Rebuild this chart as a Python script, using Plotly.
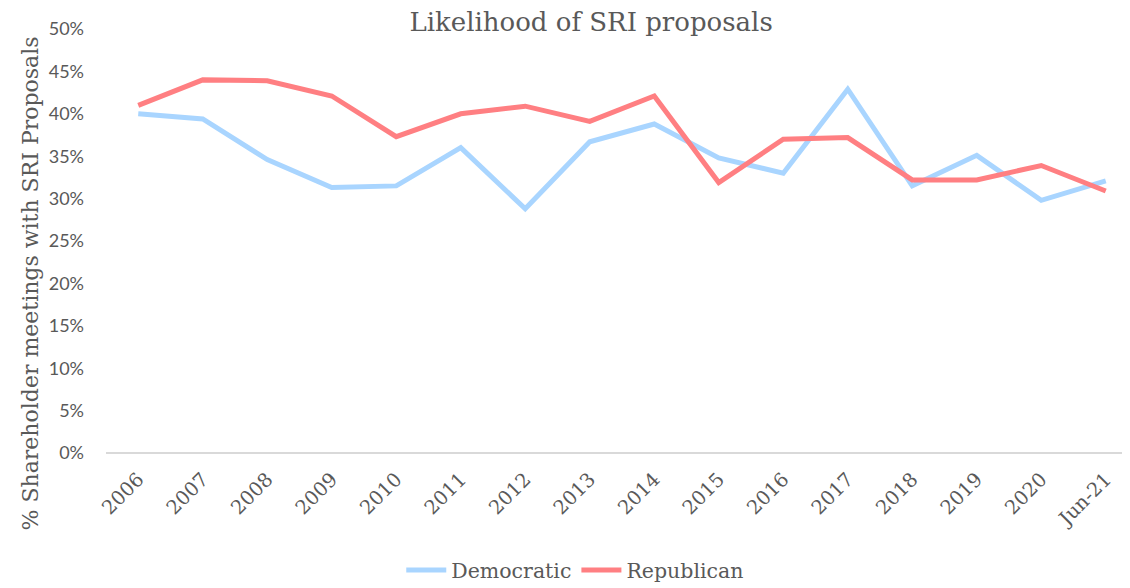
import plotly.graph_objects as go

categories = ["2006", "2007", "2008", "2009", "2010", "2011", "2012", "2013",
              "2014", "2015", "2016", "2017", "2018", "2019", "2020", "Jun-21"]
democratic = [40.0, 39.4, 34.6, 31.3, 31.5, 36.0, 28.8, 36.7,
              38.8, 34.8, 33.0, 42.9, 31.5, 35.1, 29.8, 32.1]
republican = [41.0, 44.0, 43.9, 42.1, 37.3, 40.0, 40.9, 39.1,
              42.1, 31.9, 37.0, 37.2, 32.2, 32.2, 33.9, 30.9]
y_ticks = [0, 5, 10, 15, 20, 25, 30, 35, 40, 45, 50]

serif = "'DejaVu Serif', serif"
sans = "Lato, 'Liberation Sans', sans-serif"
grey = "#595959"

x_idx = list(range(len(categories)))

fig = go.Figure()
fig.add_trace(go.Scatter(x=x_idx, y=democratic, name="Democratic", mode="lines",
                         line=dict(color="#A9D5FF", width=5)))
fig.add_trace(go.Scatter(x=x_idx, y=republican, name="Republican", mode="lines",
                         line=dict(color="#FF7F82", width=5)))

fig.update_layout(
    width=1130, height=588,
    margin=dict(l=98, r=0, t=21, b=143, autoexpand=False),
    paper_bgcolor="white", plot_bgcolor="white",
    title=dict(text="Likelihood of SRI proposals", xref="container", x=0.516,
               xanchor="center", yref="container", y=0.992, yanchor="top",
               pad=dict(t=0, b=0),
               font=dict(family=serif, size=26, color=grey)),
    showlegend=True,
    legend=dict(orientation="h", xref="container", x=0.502, xanchor="center",
                yref="container", y=0.044, yanchor="middle",
                font=dict(family=serif, size=20.5, color=grey),
                itemwidth=40, tracegroupgap=0),
    xaxis=dict(range=[-0.5, 15.5], tickmode="array", tickvals=x_idx, ticktext=categories,
               tickangle=-45, showgrid=False, zeroline=False, showline=False,
               ticks="", ticklabelstandoff=10,
               tickfont=dict(family=serif, size=19.5, color=grey)),
    yaxis=dict(range=[0, 50], tickmode="array", tickvals=y_ticks,
               ticktext=[f"{v}%" for v in y_ticks], showgrid=False,
               zeroline=True, zerolinecolor="#D9D9D9", zerolinewidth=1.5,
               showline=False, ticks="", ticklabelstandoff=21,
               tickfont=dict(family=sans, size=18, color=grey)),
    annotations=[dict(text="% Shareholder meetings with SRI Proposals", textangle=-90,
                      xref="paper", yref="paper", x=-0.0736, y=0.40,
                      xanchor="center", yanchor="middle", showarrow=False,
                      font=dict(family=serif, size=22, color=grey))],
)

fig.write_html("out.html")
